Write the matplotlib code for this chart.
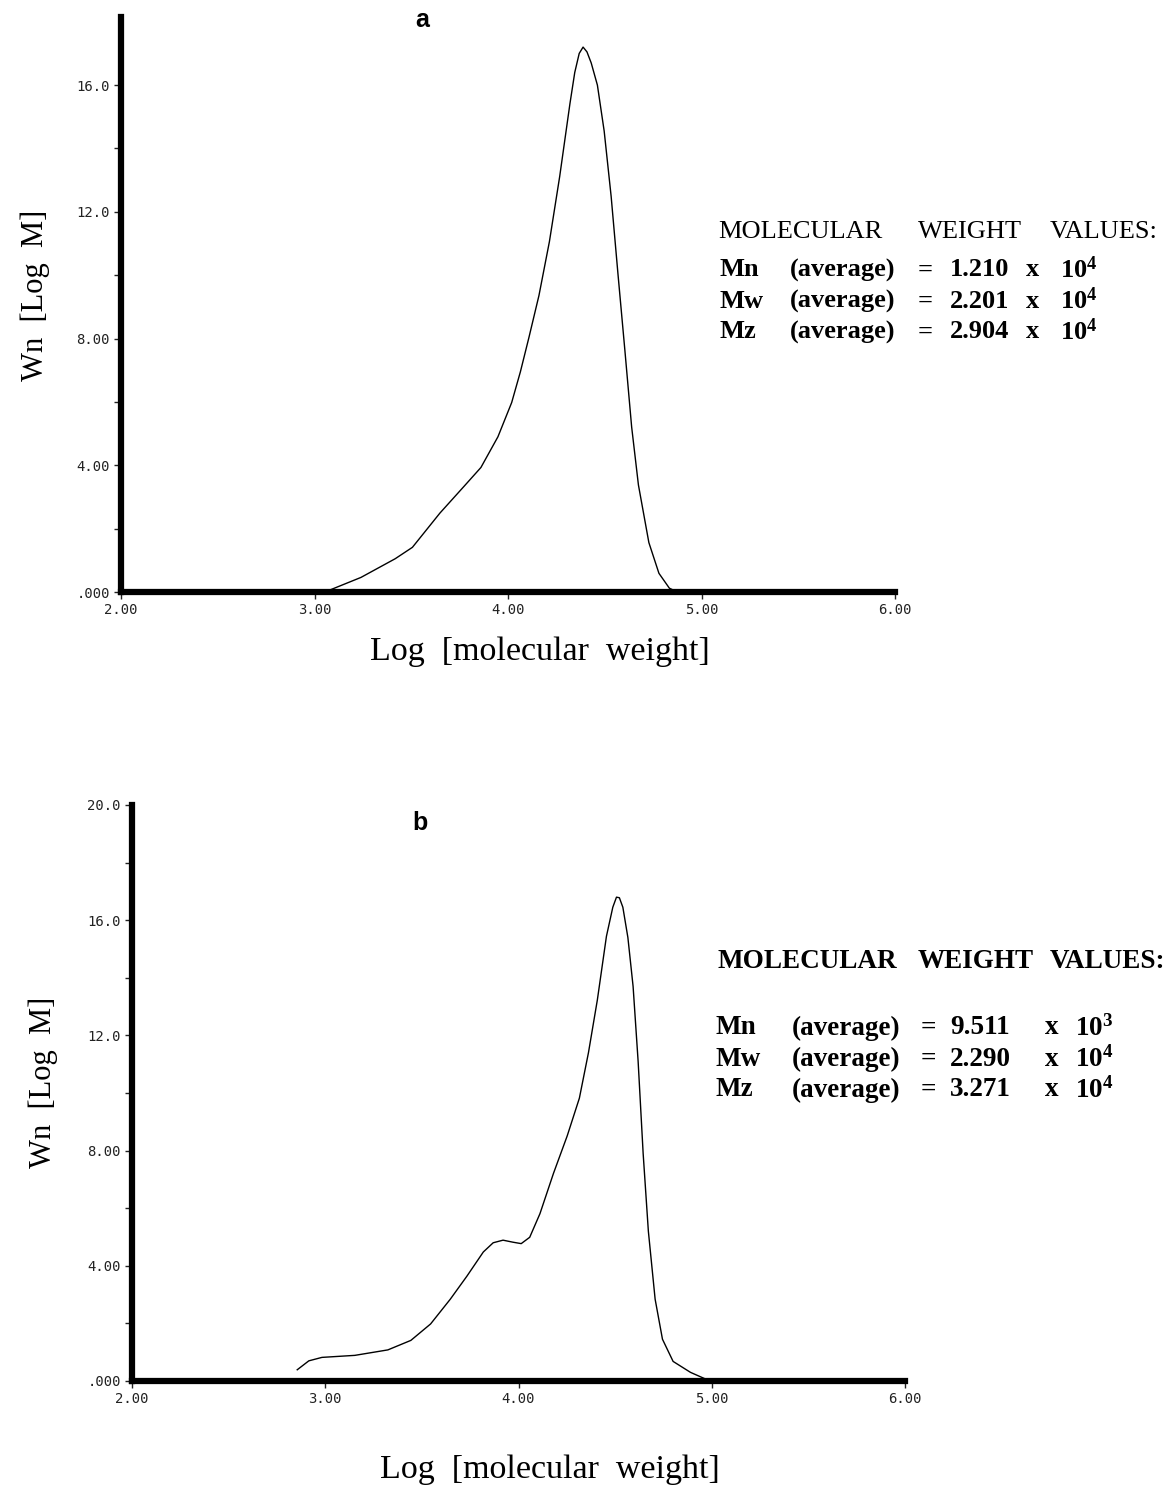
import matplotlib
matplotlib.use("Agg")
import matplotlib.pyplot as plt

plt.rcParams['mathtext.fontset'] = 'custom'
plt.rcParams['mathtext.rm'] = 'Liberation Serif'
plt.rcParams['mathtext.bf'] = 'Liberation Serif:bold'

W, H = 1175, 1493

# panel a: molecular weight distribution
a_logm = [3.054, 3.240, 3.417, 3.506, 3.648, 3.772, 3.860, 3.948, 4.019, 4.064,
          4.108, 4.160, 4.214, 4.267, 4.320, 4.345, 4.368, 4.388, 4.408, 4.430,
          4.462, 4.497, 4.533, 4.568, 4.604, 4.639, 4.674, 4.728, 4.780, 4.834,
          4.875]
a_wn = [0.0, 0.46, 1.05, 1.41, 2.49, 3.33, 3.93, 4.90, 5.98, 6.95,
        8.03, 9.36, 11.06, 13.11, 15.41, 16.40, 17.00, 17.20, 17.05, 16.70,
        16.00, 14.55, 12.49, 10.06, 7.63, 5.21, 3.38, 1.56, 0.59, 0.12,
        0.0]

# panel b
b_logm = [2.855, 2.915, 2.983, 3.153, 3.324, 3.443, 3.545, 3.647, 3.733, 3.818,
          3.869, 3.920, 3.971, 4.014, 4.058, 4.111, 4.181, 4.252, 4.315, 4.362,
          4.408, 4.455, 4.488, 4.507, 4.522, 4.540, 4.566, 4.593, 4.619, 4.645,
          4.672, 4.707, 4.745, 4.800, 4.890, 4.991]
b_wn = [0.39, 0.70, 0.82, 0.89, 1.08, 1.41, 1.98, 2.84, 3.64, 4.48,
        4.80, 4.89, 4.82, 4.77, 4.99, 5.81, 7.21, 8.51, 9.82, 11.40,
        13.23, 15.44, 16.45, 16.80, 16.78, 16.45, 15.40, 13.70, 11.10, 7.90,
        5.20, 2.84, 1.45, 0.68, 0.30, 0.0]

x_ticks = [2, 3, 4, 5, 6]
x_labels = ['2.00', '3.00', '4.00', '5.00', '6.00']
a_yticks = [0, 4, 8, 12, 16]
a_ylabels = ['.000', '4.00', '8.00', '12.0', '16.0']
b_yticks = [0, 4, 8, 12, 16, 20]
b_ylabels = ['.000', '4.00', '8.00', '12.0', '16.0', '20.0']

a_values = [('Mn', '1.210', '4'), ('Mw', '2.201', '4'), ('Mz', '2.904', '4')]
b_values = [('Mn', '9.511', '3'), ('Mw', '2.290', '4'), ('Mz', '3.271', '4')]


def px(x, y):
    return x / W, 1 - y / H


def setup_axes(ax, yticks, ylabels, ytop):
    ax.set_xlim(2, 6)
    ax.set_ylim(0, ytop)
    ax.spines['top'].set_visible(False)
    ax.spines['right'].set_visible(False)
    for s in ['left', 'bottom']:
        ax.spines[s].set_linewidth(4.5)
        ax.spines[s].set_capstyle('projecting')
    ax.set_xticks(x_ticks)
    ax.set_xticklabels(x_labels)
    ax.set_yticks(yticks)
    ax.set_yticklabels(ylabels)
    minor = [t + 2 for t in yticks[:-1]]
    ax.set_yticks(minor, minor=True)
    ax.tick_params(axis='both', which='both', direction='out', length=5, width=1,
                   pad=3, labelsize=10, colors='#222222')
    for lab in ax.get_xticklabels() + ax.get_yticklabels():
        lab.set_family('DejaVu Sans Mono')


fig = plt.figure(figsize=(W / 100, H / 100), dpi=100)

ax_a = fig.add_axes([121 / W, 1 - 592 / H, 774 / W, 575 / H])
ax_a.plot(a_logm, a_wn, color='black', linewidth=1.0)
setup_axes(ax_a, a_yticks, a_ylabels, 18.15)

ax_b = fig.add_axes([132 / W, 1 - 1381 / H, 773 / W, 576 / H])
ax_b.plot(b_logm, b_wn, color='black', linewidth=1.0)
setup_axes(ax_b, b_yticks, b_ylabels, 20.0)

serif = 'Liberation Serif'

# panel letters
fig.text(*px(422, 20), 'a', family='Liberation Sans', weight='bold', fontsize=18,
         ha='center', va='center')
fig.text(*px(420, 823), 'b', family='Liberation Sans', weight='bold', fontsize=18,
         ha='center', va='center')

# axis titles
fig.text(*px(35, 295), 'Wn  [Log  M]', family=serif, fontsize=22, rotation=90,
         ha='center', va='center')
fig.text(*px(43, 1082), 'Wn  [Log  M]', family=serif, fontsize=22, rotation=90,
         ha='center', va='center')
fig.text(*px(540, 652), 'Log  [molecular  weight]', family=serif, fontsize=24.5,
         ha='center', va='center')
fig.text(*px(550, 1470), 'Log  [molecular  weight]', family=serif, fontsize=24.5,
         ha='center', va='center')


def mw_block(y_head, y_rows, values, head_weight, cols, fs):
    x_name, x_avg, x_eq, x_num, x_x, x_pow = cols
    for word, xw in zip(['MOLECULAR', 'WEIGHT', 'VALUES:'], [718, 918, 1050]):
        fig.text(*px(xw, y_head), word, family=serif, fontsize=fs,
                 weight=head_weight, ha='left', va='center')
    for y, (name, num, exp) in zip(y_rows, values):
        kw = dict(family=serif, fontsize=fs, weight='bold', va='center')
        fig.text(*px(x_name, y), name, ha='left', **kw)
        fig.text(*px(x_avg, y), '(average)', ha='left', **kw)
        fig.text(*px(x_eq, y), '=', ha='center', **kw)
        fig.text(*px(x_num, y), num, ha='left', **kw)
        fig.text(*px(x_x, y), 'x', ha='center', **kw)
        fig.text(*px(x_pow, y), r'$\mathbf{10^{' + exp + '}}$', ha='left', **kw)


mw_block(232, [270, 301, 332], a_values, 'normal',
         (720, 790, 925, 950, 1033, 1060), 19)
mw_block(961, [1028, 1059, 1090], b_values, 'bold',
         (716, 792, 928, 950, 1052, 1075), 19.5)

fig.savefig('out.png', dpi=100)
